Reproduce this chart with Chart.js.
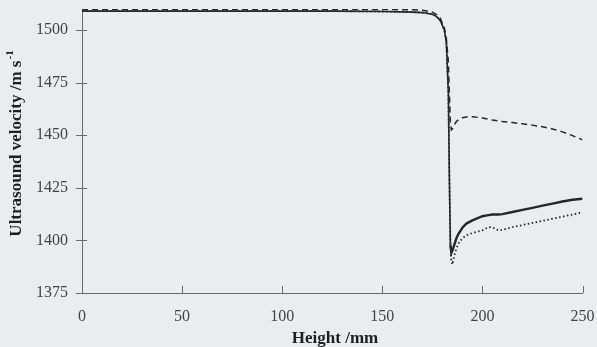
<!DOCTYPE html>
<html>
<head>
<meta charset="utf-8">
<script src="https://cdn.jsdelivr.net/npm/chart.js@4.4.1/dist/chart.umd.min.js"></script>
<style>
  html, body { margin: 0; padding: 0; background: #e9edef; }
  #cadre { width: 597px; height: 347px; }
</style>
</head>
<body>
<div id="cadre"><canvas id="vitesse" width="597" height="347"></canvas></div>
<script>
// Hauteur dans la colonne (mm)
const hauteurs = [0, 25, 50, 75, 100, 125, 150, 165, 170, 175, 177, 179, 181, 182, 183, 183.5, 184, 184.5, 185, 186, 187, 188, 190, 192, 195, 200, 203, 205, 208, 210, 215, 220, 225, 230, 235, 240, 245, 250];

// Vitesse ultrasonore (m/s) pour chaque courbe
const vitesseContinue = [1509, 1509, 1509, 1509, 1509, 1509, 1508.8, 1508.5, 1508.3, 1507.5, 1506.5, 1504.5, 1500, 1494, 1470, 1430, 1398, 1394, 1395, 1398, 1401, 1403, 1406, 1408, 1409.5, 1411.5, 1412, 1412.3, 1412.3, 1412.5, 1413.5, 1414.5, 1415.5, 1416.5, 1417.5, 1418.5, 1419.3, 1419.8];
const vitesseTirets = [1509.8, 1509.8, 1509.8, 1509.8, 1509.8, 1509.8, 1509.8, 1509.6, 1509.4, 1508.5, 1507.5, 1505.5, 1501, 1496, 1485, 1470, 1456, 1452.5, 1453, 1455, 1456.5, 1457.3, 1458.3, 1458.7, 1458.8, 1458.2, 1457.6, 1457.2, 1456.8, 1456.5, 1456, 1455.4, 1454.8, 1454, 1453, 1451.6, 1449.8, 1447.8];
const vitessePointillee = [1509, 1509, 1509, 1509, 1509, 1509, 1508.8, 1508.5, 1508.3, 1507.5, 1506.5, 1504.5, 1500, 1494, 1470, 1430, 1400, 1390, 1388.5, 1393, 1396, 1398.5, 1401, 1402.5, 1403.5, 1404.8, 1406.3, 1406.2, 1404.8, 1405, 1406.3, 1407.3, 1408.3, 1409.3, 1410.3, 1411.3, 1412.3, 1413.3];

// Graduations des axes
const ticksX = [0, 50, 100, 150, 200, 250];
const ticksY = [1375, 1400, 1425, 1450, 1475, 1500];

const police = '"Liberation Serif", "Times New Roman", serif';
const couleurTrait = '#262626';

const points = (valeurs) => hauteurs.map((h, i) => ({ x: h, y: valeurs[i] }));

// Petites graduations qui traversent les axes + titres des axes (avec exposant)
const marquesEtTitres = {
  id: 'marquesEtTitres',
  afterDraw(chart) {
    const { ctx, scales: { x, y } } = chart;
    ctx.save();
    ctx.strokeStyle = '#6a6a6a';
    ctx.lineWidth = 1;
    ticksY.forEach((v) => {
      const py = Math.round(y.getPixelForValue(v)) + 0.5;
      ctx.beginPath();
      ctx.moveTo(x.left - 6, py);
      ctx.lineTo(x.left + 5, py);
      ctx.stroke();
    });
    ticksX.slice(1).forEach((v) => {
      const px = Math.round(x.getPixelForValue(v)) + 0.5;
      ctx.beginPath();
      ctx.moveTo(px, y.bottom);
      ctx.lineTo(px, y.bottom - 7);
      ctx.stroke();
    });

    ctx.fillStyle = '#1f1f1f';
    ctx.textBaseline = 'middle';
    ctx.textAlign = 'center';
    ctx.font = 'bold 17px ' + police;
    ctx.fillText('Height /mm', 335, 339);

    // titre vertical : "Ultrasound velocity /m s" + exposant "-1"
    const base = 'Ultrasound velocity /m s';
    const exposant = '-1';
    ctx.font = 'bold 17px ' + police;
    const lb = ctx.measureText(base).width;
    ctx.font = 'bold 11px ' + police;
    const le = ctx.measureText(exposant).width;
    ctx.translate(17, 144);
    ctx.rotate(-Math.PI / 2);
    ctx.textAlign = 'left';
    const debut = -(lb + le) / 2;
    ctx.font = 'bold 17px ' + police;
    ctx.fillText(base, debut, 0);
    ctx.font = 'bold 11px ' + police;
    ctx.fillText(exposant, debut + lb + 1, -7);
    ctx.restore();
  },
};

const config = {
  type: 'line',
  data: {
    datasets: [
      {
        label: 'pointillé',
        data: points(vitessePointillee),
        borderColor: couleurTrait,
        borderWidth: 1.8,
        borderDash: [1.5, 2.5],
      },
      {
        label: 'tirets',
        data: points(vitesseTirets),
        borderColor: couleurTrait,
        borderWidth: 1.5,
        borderDash: [6, 4],
      },
      {
        label: 'continu',
        data: points(vitesseContinue),
        borderColor: couleurTrait,
        borderWidth: 1.6,
        // trait plus épais après la chute (mesures plus bruitées)
        segment: { borderWidth: (s) => (s.p0.parsed.x >= 184 ? 2.4 : 1.6) },
      },
    ],
  },
  options: {
    responsive: false,
    animation: false,
    layout: { padding: { top: 9, right: 14.5, left: 0, bottom: 0 } },
    elements: { point: { radius: 0 }, line: { tension: 0 } },
    plugins: { legend: { display: false }, tooltip: { enabled: false } },
    scales: {
      x: {
        type: 'linear',
        min: 0,
        max: 250,
        afterBuildTicks: (axe) => { axe.ticks = ticksX.map((v) => ({ value: v })); },
        afterFit: (axe) => { axe.height = 54; axe.paddingLeft = 0; axe.paddingRight = 0; },
        grid: { display: false },
        border: { display: true, color: '#6a6a6a', width: 1 },
        ticks: { color: '#444', font: { family: police, size: 16 }, padding: 6, maxRotation: 0, callback: (v) => String(v) },
      },
      y: {
        type: 'linear',
        min: 1375,
        max: 1510,
        afterBuildTicks: (axe) => { axe.ticks = ticksY.map((v) => ({ value: v })); },
        afterFit: (axe) => { axe.width = 82; axe.paddingTop = 0; axe.paddingBottom = 0; },
        grid: { display: false },
        border: { display: true, color: '#6a6a6a', width: 1 },
        ticks: { color: '#444', font: { family: police, size: 16 }, padding: 6, callback: (v) => String(v) },
      },
    },
  },
  plugins: [marquesEtTitres],
};

new Chart(document.getElementById('vitesse'), config);
</script>
</body>
</html>
